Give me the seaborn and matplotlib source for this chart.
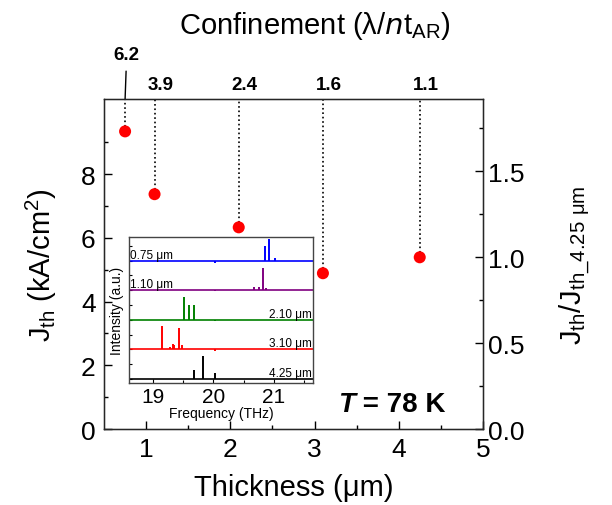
import numpy as np
import pandas as pd
import seaborn as sns
import matplotlib.pyplot as plt
from matplotlib.ticker import MultipleLocator, FixedLocator

# threshold current density vs active region thickness
thickness = [0.75, 1.10, 2.10, 3.10, 4.25]
jth = [9.34, 7.37, 6.33, 4.89, 5.39]
confinement = ["6.2", "3.9", "2.4", "1.6", "1.1"]
j_ref = 5.39  # J_th at 4.25 um

# inset spectra: peak positions (THz) and relative heights, bottom trace first
spec_labels = ["4.25 μm", "3.10 μm", "2.10 μm", "1.10 μm", "0.75 μm"]
spec_colors = ["black", "#ff0000", "#008000", "#800080", "#0000ff"]
spec_freqs = [
    [19.68, 19.82, 20.03],
    [19.14, 19.28, 19.33, 19.35, 19.43, 19.47, 20.03],
    [19.51, 19.60, 19.68, 20.03],
    [20.68, 20.75, 20.82, 20.88, 20.03],
    [20.85, 20.93, 21.03, 20.03],
]
spec_heights = [
    [0.32, 0.79, 0.20],
    [0.79, 0.08, 0.18, 0.15, 0.73, 0.16, -0.04],
    [0.77, 0.50, 0.50, -0.04],
    [0.10, 0.12, 0.75, 0.06, -0.04],
    [0.50, 0.73, 0.08, -0.07],
]

sns.set_style("ticks")
plt.rcParams["font.family"] = ["Liberation Sans", "DejaVu Sans"]
plt.rcParams["mathtext.default"] = "regular"
plt.rcParams["xtick.direction"] = "in"
plt.rcParams["ytick.direction"] = "in"
for key in ["text.color", "axes.labelcolor", "xtick.color", "ytick.color"]:
    plt.rcParams[key] = "black"

fig = plt.figure(figsize=(6.12, 5.06), dpi=100)
ax = fig.add_axes([0.170, 0.150, 0.619, 0.652])

df = pd.DataFrame({"thickness": thickness, "jth": jth})
sns.scatterplot(data=df, x="thickness", y="jth", color="#ff0000", s=75,
                edgecolor="none", zorder=5, ax=ax)

ytop = 10.35
ax.set_xlim(0.5, 5.0)
ax.set_ylim(0, ytop)
ax.set_xticks([1, 2, 3, 4, 5])
ax.xaxis.set_minor_locator(FixedLocator([1.5, 2.5, 3.5, 4.5]))
ax.set_yticks([0, 2, 4, 6, 8])
ax.yaxis.set_minor_locator(FixedLocator([1, 3, 5, 7, 9]))
ax.tick_params(which="major", length=6, width=1, labelsize=19, pad=6)
ax.tick_params(which="minor", length=3, width=1)
ax.tick_params(axis="x", top=False)
ax.set_xlabel("Thickness (μm)", fontsize=21, labelpad=8)
ax.set_ylabel("J$_{th}$ (kA/cm$^2$)", fontsize=21, labelpad=16)
for sp in ax.spines.values():
    sp.set_linewidth(1)
    sp.set_color("black")

# dotted guides to the top axis with confinement labels
trans = ax.get_xaxis_transform()
for i, (x, y, lab) in enumerate(zip(thickness, jth, confinement)):
    ax.plot([x, x], [y, ytop], ls=":", color="black", lw=1.2, zorder=3)
    if i == 0:
        ax.plot([x, x + 0.012], [1.0, 1.085], color="black", lw=1,
                transform=trans, clip_on=False)
        ax.text(x + 0.02, 1.136, lab, transform=trans, ha="center",
                va="center", fontsize=13.5, fontweight="bold")
    else:
        ax.text(x + 0.07, 1.045, lab, transform=trans, ha="center",
                va="center", fontsize=13.5, fontweight="bold")

t_txt = ax.text(0.618, 0.075, "T", transform=ax.transAxes, ha="left",
                va="center", fontsize=20, fontweight="bold", style="italic")
ax.annotate(" = 78 K", xy=(1, 0.5), xycoords=t_txt, ha="left", va="center",
            fontsize=20, fontweight="bold")

fig.text(0.515, 0.948, "Confinement ($\\lambda$/$\\mathit{n}$t$_{AR}$)",
         ha="center", va="center", fontsize=21)

# right axis normalised to the 4.25 um device
ax2 = ax.twinx()
ax2.set_ylim(0, ytop / j_ref)
ax2.yaxis.set_minor_locator(MultipleLocator(0.25))
ax2.set_yticks([0.0, 0.5, 1.0, 1.5])
ax2.set_yticklabels(["0.0", "0.5", "1.0", "1.5"])
ax2.tick_params(which="major", length=6, width=1, labelsize=19, pad=4)
ax2.tick_params(which="minor", length=3, width=1)
ax2.set_ylabel("J$_{th}$/J$_{th\\_4.25\\ μm}$", fontsize=21, labelpad=24)
ax2.grid(False)

# inset: lasing spectra
ins = fig.add_axes([0.211, 0.241, 0.300, 0.289])
fmin, fmax = 18.6, 21.65
for k, (lab, col, fr, hts) in enumerate(zip(spec_labels, spec_colors,
                                            spec_freqs, spec_heights)):
    ins.plot([fmin, fmax], [k, k], color=col, lw=1.2)
    ins.vlines(fr, k, [k + h for h in hts], color=col, lw=1.4)
    if k >= 3:
        ins.text(fmin + 0.02, k + 0.2, lab, ha="left", va="center",
                 fontsize=8.5)
    else:
        ins.text(fmax - 0.02, k + 0.2, lab, ha="right", va="center",
                 fontsize=8.5)
ins.set_xlim(fmin, fmax)
ins.set_ylim(-0.135, 4.8)
ins.set_xticks([19, 20, 21])
ins.xaxis.set_minor_locator(MultipleLocator(0.5))
ins.yaxis.set_major_locator(MultipleLocator(0.5))
ins.set_yticklabels([])
ins.tick_params(which="major", length=3, width=0.8, labelsize=15, pad=3)
ins.tick_params(axis="y", length=2.5)
ins.tick_params(which="minor", length=2, width=0.8)
ins.set_xlabel("Frequency (THz)", fontsize=10, labelpad=0)
ins.set_ylabel("Intensity (a.u.)", fontsize=10, labelpad=1)
for sp in ins.spines.values():
    sp.set_linewidth(1)
    sp.set_color("#444444")

fig.savefig("out.png", dpi=100)
